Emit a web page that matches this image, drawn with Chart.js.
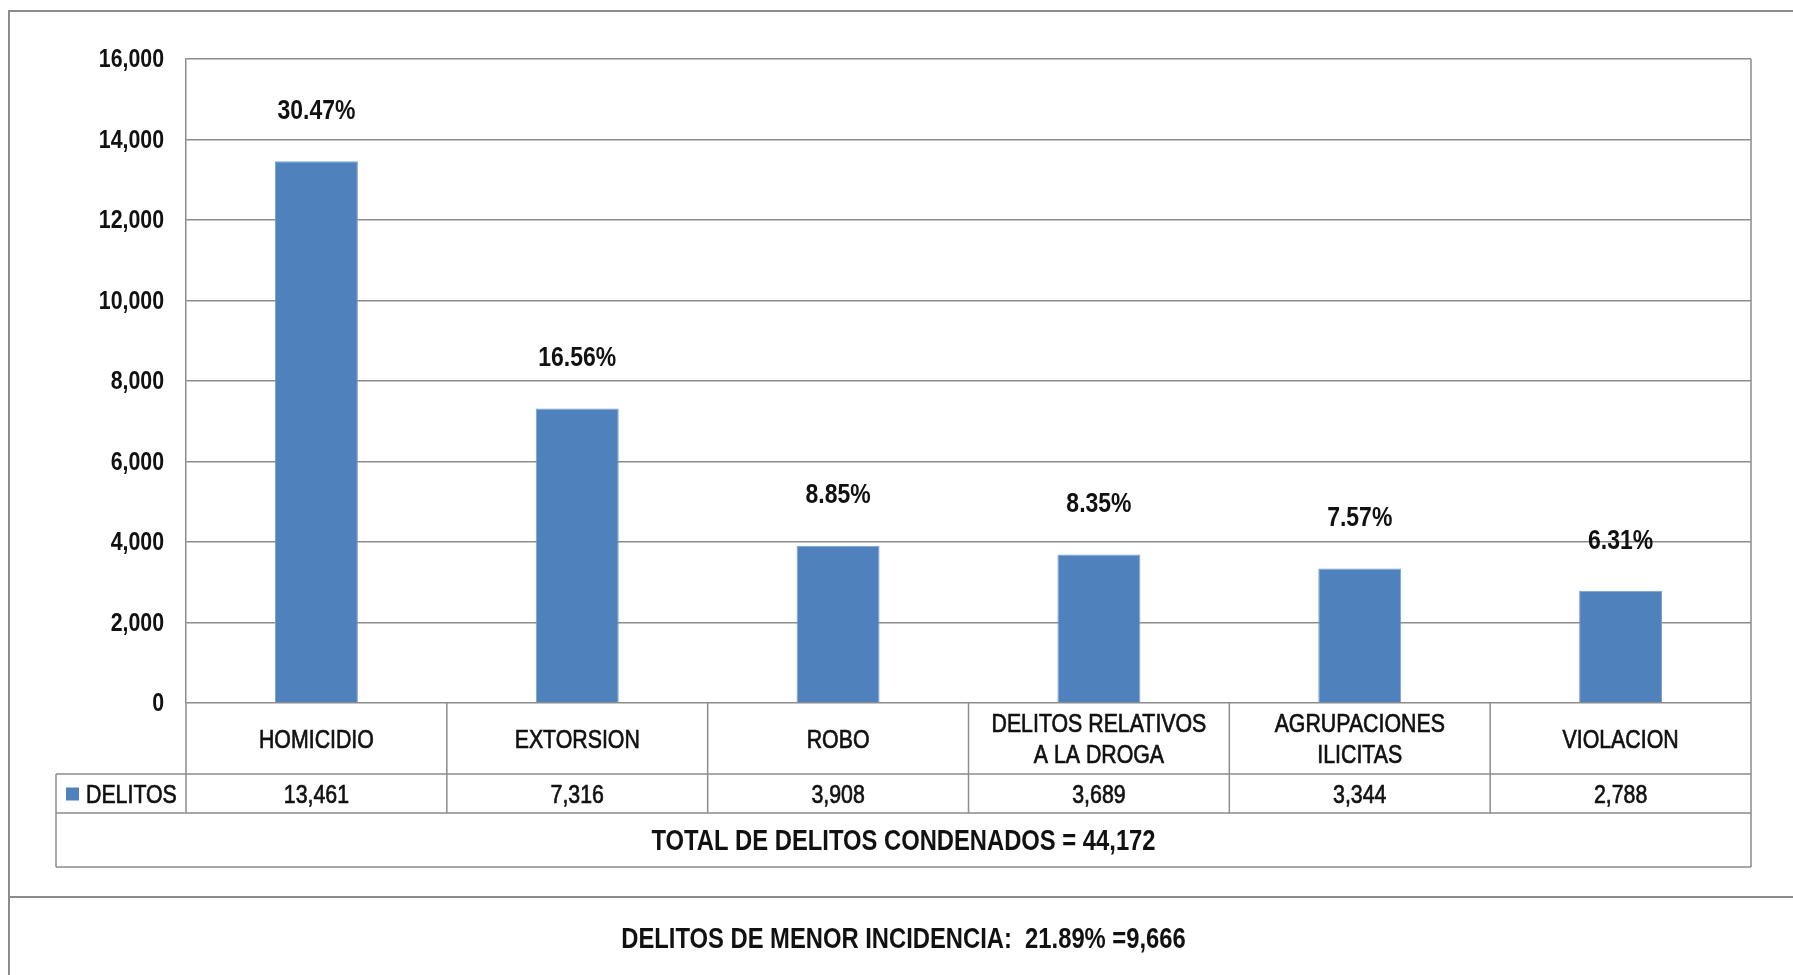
<!DOCTYPE html>
<html>
<head>
<meta charset="utf-8">
<script src="https://cdn.jsdelivr.net/npm/chart.js@4"></script>
<style>
  body { margin: 0; background: #fff; }
  canvas { display: block; }
</style>
</head>
<body>
<canvas id="delitosChart" width="1793" height="975"></canvas>
<script>
// Datos del grafico
const categorias = ['HOMICIDIO', 'EXTORSION', 'ROBO', ['DELITOS RELATIVOS', 'A LA DROGA'], ['AGRUPACIONES', 'ILICITAS'], 'VIOLACION'];
const delitos = [13461, 7316, 3908, 3689, 3344, 2788];
const porcentajes = ['30.47%', '16.56%', '8.85%', '8.35%', '7.57%', '6.31%'];
const serieNombre = 'DELITOS';
const totalTexto = 'TOTAL DE DELITOS CONDENADOS = 44,172';
const menorTexto = 'DELITOS DE MENOR INCIDENCIA:  21.89% =9,666';

const FUENTE = "'Liberation Sans', Arial, sans-serif";
const ANGOSTO = 0.82; // no hay Arial Narrow, se comprime a mano
const GRIS = '#8c8c8c';
const AZUL = '#4F81BD';

function fmt(n) {
    return n.toLocaleString('en-US');
}

function textoAngosto(ctx, t, x, y, align, grueso) {
    ctx.save();
    ctx.translate(x, y);
    ctx.scale(ANGOSTO, 1);
    ctx.textAlign = align || 'center';
    ctx.textBaseline = 'middle';
    ctx.fillText(t, 0, 0);
    if (grueso) {
        // un poco mas de peso para el texto normal
        ctx.strokeStyle = ctx.fillStyle;
        ctx.lineWidth = 0.7;
        ctx.strokeText(t, 0, 0);
    }
    ctx.restore();
}

// Etiquetas de porcentaje encima de cada barra + etiquetas del eje Y
const porcentajePlugin = {
    id: 'porcentajes',
    afterDatasetsDraw(chart) {
        const ctx = chart.ctx;
        const meta = chart.getDatasetMeta(0);
        const y = chart.scales.y;
        ctx.save();
        ctx.fillStyle = '#111';
        ctx.font = 'bold 28px ' + FUENTE;
        meta.data.forEach((bar, i) => {
            textoAngosto(ctx, porcentajes[i], bar.x, bar.y - 50, 'center');
        });
        ctx.font = 'bold 26px ' + FUENTE;
        y.ticks.forEach(t => {
            textoAngosto(ctx, fmt(t.value), y.right - 22, y.getPixelForValue(t.value) + 1, 'right');
        });
        ctx.restore();
    }
};

// Marco exterior y tabla de datos debajo del eje
const tablaPlugin = {
    id: 'tabla',
    beforeDraw(chart) {
        const ctx = chart.ctx;
        ctx.save();
        ctx.fillStyle = '#fff';
        ctx.fillRect(0, 0, chart.width, chart.height);
        ctx.strokeStyle = GRIS;
        ctx.lineWidth = 2;
        ctx.beginPath();
        ctx.moveTo(9, chart.height);
        ctx.lineTo(9, 11);
        ctx.lineTo(chart.width, 11);
        ctx.moveTo(9, 897);
        ctx.lineTo(chart.width, 897);
        ctx.stroke();
        ctx.restore();
    },
    afterDraw(chart) {
        const ctx = chart.ctx;
        const x = chart.scales.x;
        const area = chart.chartArea;
        const n = categorias.length;
        const w = (area.right - area.left) / n;
        const filaCat = area.bottom + 71;
        const filaDat = filaCat + 39;
        const filaTot = filaDat + 54;
        const izq = 56;

        ctx.save();
        ctx.strokeStyle = GRIS;
        ctx.lineWidth = 1.5;
        ctx.beginPath();
        // borde derecho del area
        ctx.moveTo(area.right, area.top);
        ctx.lineTo(area.right, filaTot);
        // eje izquierdo bajando por la fila de categorias
        ctx.moveTo(area.left, area.bottom);
        ctx.lineTo(area.left, filaDat);
        // separadores de categorias
        for (let i = 1; i < n; i++) {
            const px = area.left + i * w;
            ctx.moveTo(px, area.bottom);
            ctx.lineTo(px, filaDat);
        }
        // lineas horizontales de la tabla
        ctx.moveTo(izq, filaCat);
        ctx.lineTo(area.right, filaCat);
        ctx.moveTo(izq, filaDat);
        ctx.lineTo(area.right, filaDat);
        ctx.moveTo(izq, filaTot);
        ctx.lineTo(area.right, filaTot);
        ctx.moveTo(izq, filaCat);
        ctx.lineTo(izq, filaTot);
        ctx.stroke();

        ctx.fillStyle = '#111';
        ctx.font = '26px ' + FUENTE;
        categorias.forEach((c, i) => {
            const cx = x.getPixelForValue(i);
            const lineas = Array.isArray(c) ? c : [c];
            const mid = (area.bottom + filaCat) / 2 + 2;
            lineas.forEach((l, j) => {
                textoAngosto(ctx, l, cx, mid + (j - (lineas.length - 1) / 2) * 31, 'center', true);
            });
            textoAngosto(ctx, fmt(delitos[i]), cx, (filaCat + filaDat) / 2 + 2, 'center', true);
        });

        // leyenda de la serie
        ctx.fillStyle = AZUL;
        ctx.fillRect(66, (filaCat + filaDat) / 2 - 6, 13, 13);
        ctx.fillStyle = '#111';
        textoAngosto(ctx, serieNombre, 86, (filaCat + filaDat) / 2 + 2, 'left', true);

        ctx.font = 'bold 29px ' + FUENTE;
        textoAngosto(ctx, totalTexto, (izq + area.right) / 2, (filaDat + filaTot) / 2 + 2);
        textoAngosto(ctx, menorTexto, (izq + area.right) / 2, 940);
        ctx.restore();
    }
};

const ctx = document.getElementById('delitosChart').getContext('2d');
new Chart(ctx, {
    type: 'bar',
    data: {
        labels: categorias,
        datasets: [{
            label: serieNombre,
            data: delitos,
            backgroundColor: AZUL,
            borderColor: '#7a9fd0',
            borderWidth: 1,
            categoryPercentage: 1,
            barPercentage: 0.318
        }]
    },
    options: {
        responsive: false,
        animation: false,
        layout: {
            padding: { left: 0, top: 59, right: 42, bottom: 0 }
        },
        plugins: {
            legend: { display: false },
            tooltip: { enabled: false }
        },
        scales: {
            x: {
                grid: { display: false },
                border: { display: false },
                ticks: { display: false },
                afterFit(scale) {
                    scale.height = 272;
                }
            },
            y: {
                min: 0,
                max: 16000,
                ticks: {
                    stepSize: 2000,
                    display: false
                },
                grid: { color: GRIS, lineWidth: 1.5, drawTicks: false },
                border: { display: true, color: GRIS, width: 1.5 },
                afterFit(scale) {
                    scale.width = 186;
                }
            }
        }
    },
    plugins: [porcentajePlugin, tablaPlugin]
});
</script>
</body>
</html>
